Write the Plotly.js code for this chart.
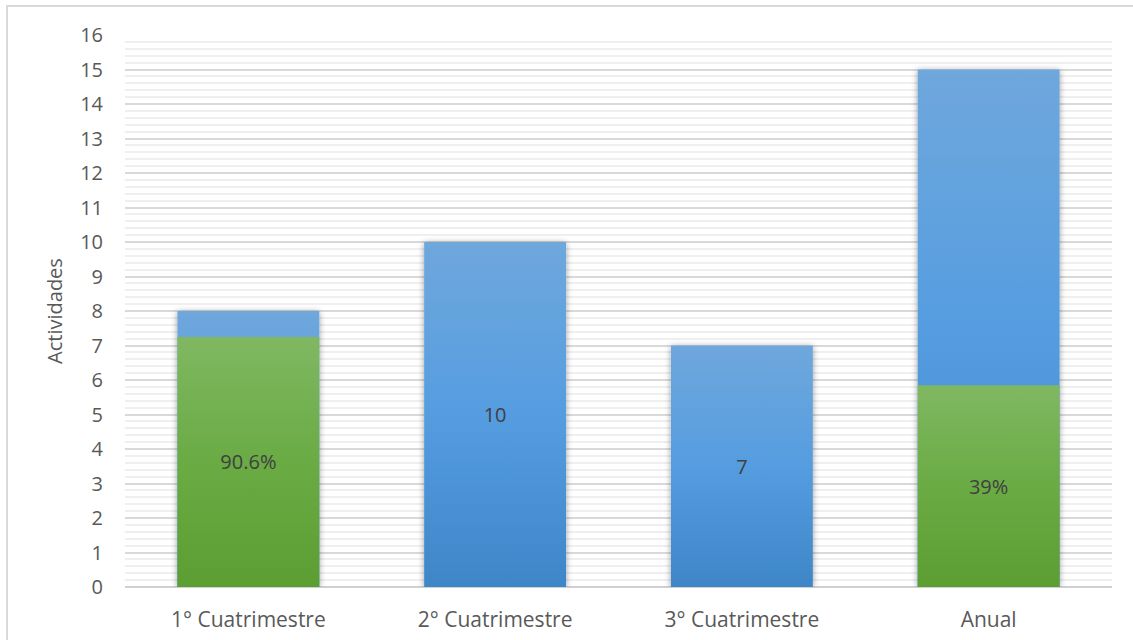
<!DOCTYPE html>
<html>
<head>
<meta charset="utf-8">
<script src="https://cdn.plot.ly/plotly-3.0.1.min.js"></script>
<style>
  html, body { margin: 0; padding: 0; background: #ffffff; overflow: hidden; }
  #wrap { position: relative; width: 1133px; height: 640px; }
  #chart { width: 1133px; height: 640px; }
  #frame {
    position: absolute; left: 6px; top: 5px; width: 1140px; height: 650px;
    border: 2px solid #d9d9d9; box-sizing: border-box; pointer-events: none;
  }
</style>
</head>
<body>
<div id="wrap">
  <div id="chart"></div>
  <div id="frame"></div>
</div>
<script>
// Periods and the number of activities planned for each
const periods = ['1° Cuatrimestre', '2° Cuatrimestre', '3° Cuatrimestre', 'Anual'];
const totalActivities = [8, 10, 7, 15];
const totalLabels = ['', '10', '7', ''];
// Share of activities completed (percent); null where not reported
const completedPct = [90.6, null, null, 39];

const completedValues = completedPct.map((p, i) => p == null ? 0 : p / 100 * totalActivities[i]);
const completedLabels = completedPct.map(p => p == null ? '' : p + '%');

const fontFamily = '"Open Sans", Lato, sans-serif';
const labelFont = { family: fontFamily, size: 20, color: '#404040' };

const traces = [
  {
    type: 'bar', x: periods, y: totalActivities,
    text: totalLabels, textposition: 'inside', insidetextanchor: 'middle',
    textfont: labelFont, marker: { color: '#5b9bd5' }, hoverinfo: 'skip',
    name: 'Total'
  },
  {
    type: 'bar', x: periods, y: completedValues,
    text: completedLabels, textposition: 'inside', insidetextanchor: 'middle',
    textfont: labelFont, marker: { color: '#70ad47' }, hoverinfo: 'skip',
    name: 'Cumplidas'
  }
];

const layout = {
  width: 1133, height: 640,
  margin: { l: 125, r: 21, t: 35, b: 53 },
  paper_bgcolor: '#ffffff', plot_bgcolor: '#ffffff',
  barmode: 'overlay', bargap: 0.425,
  showlegend: false,
  font: { family: fontFamily, color: '#595959' },
  xaxis: {
    showgrid: false, zeroline: false, showline: false, ticks: '',
    tickfont: { size: 21, color: '#595959' }, ticklabelstandoff: 18,
    fixedrange: true
  },
  yaxis: {
    range: [0, 16], dtick: 1, tick0: 0,
    gridcolor: '#d9d9d9', gridwidth: 2,
    minor: { dtick: 0.2, showgrid: true, gridcolor: '#efefef', gridwidth: 2 },
    zeroline: true, zerolinecolor: '#d0d0d0', zerolinewidth: 2,
    showline: false, ticks: '',
    tickfont: { size: 20, color: '#595959' }, ticklabelstandoff: 21,
    title: { text: 'Actividades', font: { size: 20, color: '#595959' }, standoff: 12 },
    fixedrange: true
  }
};

Plotly.newPlot('chart', traces, layout, { staticPlot: true, displayModeBar: false }).then(gd => {
  // Vertical gradients and a soft shadow for the bars
  const svg = gd.querySelector('.main-svg');
  const ns = 'http://www.w3.org/2000/svg';
  let defs = svg.querySelector('defs');
  if (!defs) { defs = document.createElementNS(ns, 'defs'); svg.insertBefore(defs, svg.firstChild); }
  function grad(id, stops) {
    const g = document.createElementNS(ns, 'linearGradient');
    g.setAttribute('id', id);
    g.setAttribute('x1', '0'); g.setAttribute('y1', '0');
    g.setAttribute('x2', '0'); g.setAttribute('y2', '1');
    stops.forEach(([off, col]) => {
      const s = document.createElementNS(ns, 'stop');
      s.setAttribute('offset', off); s.setAttribute('stop-color', col);
      g.appendChild(s);
    });
    defs.appendChild(g);
  }
  grad('gradBlue', [['0', '#6fa7dc'], ['0.5', '#559de0'], ['1', '#3e86c8']]);
  grad('gradGreen', [['0', '#80b862'], ['0.5', '#6aab44'], ['1', '#5c9e32']]);
  const f = document.createElementNS(ns, 'filter');
  f.setAttribute('id', 'barShadow');
  f.setAttribute('x', '-20%'); f.setAttribute('y', '-20%');
  f.setAttribute('width', '140%'); f.setAttribute('height', '140%');
  const ds = document.createElementNS(ns, 'feDropShadow');
  ds.setAttribute('dx', '0'); ds.setAttribute('dy', '1');
  ds.setAttribute('stdDeviation', '3');
  ds.setAttribute('flood-color', '#000000'); ds.setAttribute('flood-opacity', '0.4');
  f.appendChild(ds);
  defs.appendChild(f);

  const groups = gd.querySelectorAll('.barlayer .trace');
  const fills = ['url(#gradBlue)', 'url(#gradGreen)'];
  groups.forEach((tr, i) => {
    tr.querySelectorAll('path').forEach(p => {
      p.style.fill = fills[i];
      if (i === 0) p.setAttribute('filter', 'url(#barShadow)');
    });
  });
});
</script>
</body>
</html>
